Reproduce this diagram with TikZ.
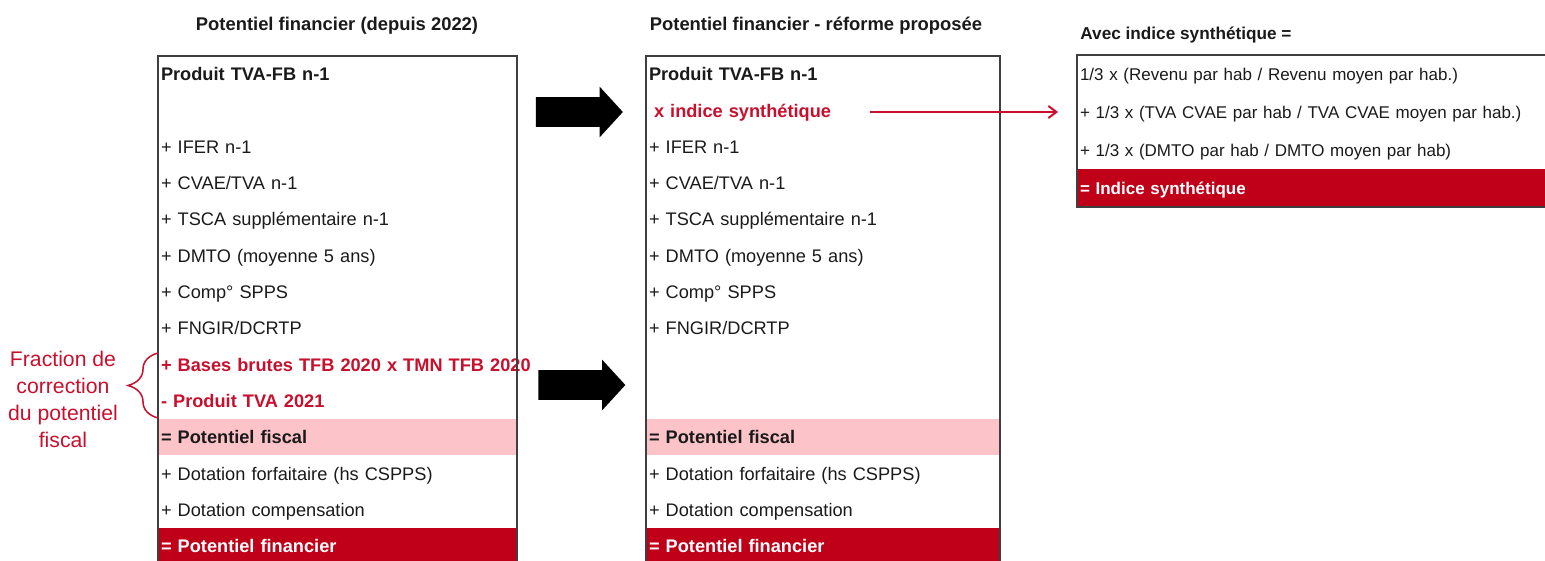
\documentclass[tikz,border=0pt]{standalone}
\usepackage{fontspec}
\setmainfont{Liberation Sans}
\usetikzlibrary{arrows.meta, positioning, shapes.arrows, decorations.pathreplacing}
\definecolor{rougebordeaux}{HTML}{C00018}
\definecolor{rosepale}{HTML}{FCC3C9}
\definecolor{rougetexte}{HTML}{C8102E}
\definecolor{grisbord}{HTML}{3F3F3F}
\definecolor{noirtexte}{HTML}{1A1A1A}
\colorlet{colBande}{rougebordeaux}
\colorlet{colFiscal}{rosepale}
\colorlet{colRouge}{rougetexte}
\colorlet{colBord}{grisbord}
\colorlet{colTexte}{noirtexte}
\tikzset{
  ligneBase/.style={
    rectangle, inner xsep=1.5pt, inner ysep=0pt, outer sep=0pt,
    minimum height=18.15pt, text height=6.6pt, text depth=0pt,
    align=left, font=\fontsize{9.1}{11}\selectfont, text=colTexte
  },
  ligneGauche/.style={ligneBase, text width=176.5pt},
  ligneMilieu/.style={ligneBase, text width=174pt},
  ligneDroite/.style={ligneBase, text width=233.5pt, minimum height=19pt,
    text height=6.1pt, font=\fontsize{8.5}{10}\selectfont},
  ligneGras/.style={font=\fontsize{9.1}{11}\selectfont\bfseries},
  ligneRouge/.style={ligneGras, text=colRouge},
  bandeFiscal/.style={ligneGras, fill=colFiscal},
  bandeFinancier/.style={ligneGras, fill=colBande, text=white},
  cadre/.style={draw=colBord, line width=1pt},
  titreCol/.style={font=\fontsize{9.2}{11}\selectfont\bfseries, text=colTexte},
  flecheBloc/.style={single arrow, fill=black, inner xsep=0pt, inner ysep=7.25pt,
    minimum height=43.5pt, single arrow head extend=5.25pt, single arrow tip angle=95},
  flecheFine/.style={-{Straight Barb[length=4pt, width=6pt]}, line width=1pt, colRouge},
  accolade/.style={decorate, decoration={brace, amplitude=15pt}, line width=0.75pt, colRouge},
  etiquetteFraction/.style={align=center, text=colRouge, font=\fontsize{10.6}{13.5}\selectfont},
}
\begin{document}
\begin{tikzpicture}[x=0.5pt, y=-0.5pt, node distance=0pt]
    \useasboundingbox (0,0) rectangle (1545,561);
    % colonne de gauche
    \node[titreCol] (titreG) at (337,26) {Potentiel financier (depuis 2022)};
    \node[ligneGauche, ligneGras, anchor=north west] (g0) at (158,56) {Produit TVA-FB n-1};
    \node[ligneGauche, below=of g0] (g1) {};
    \node[ligneGauche, below=of g1] (g2) {+ IFER n-1};
    \node[ligneGauche, below=of g2] (g3) {+ CVAE/TVA n-1};
    \node[ligneGauche, below=of g3] (g4) {+ TSCA supplémentaire n-1};
    \node[ligneGauche, below=of g4] (g5) {+ DMTO (moyenne 5 ans)};
    \node[ligneGauche, below=of g5] (g6) {+ Comp° SPPS};
    \node[ligneGauche, below=of g6] (g7) {+ FNGIR/DCRTP};
    \node[ligneGauche, ligneRouge, below=of g7] (g8) {\mbox{+ Bases brutes TFB 2020 x TMN TFB 2020}};
    \node[ligneGauche, ligneRouge, below=of g8] (g9) {- Produit TVA 2021};
    \node[ligneGauche, bandeFiscal, below=of g9] (g10) {= Potentiel fiscal};
    \node[ligneGauche, below=of g10] (g11) {+ Dotation forfaitaire (hs CSPPS)};
    \node[ligneGauche, below=of g11] (g12) {+ Dotation compensation};
    \node[ligneGauche, bandeFinancier, below=of g12] (g13) {= Potentiel financier};
    \draw[cadre] (g0.north west) rectangle (g13.south east);
    \draw[accolade] ([yshift=0.5pt]g9.south west) -- ([yshift=-3.3pt]g8.north west);
    \node[etiquetteFraction] (fraction) at (63,399) {Fraction de\\correction\\du potentiel\\fiscal};
    % colonne du milieu
    \node[titreCol] (titreM) at (816,26) {Potentiel financier - réforme proposée};
    \node[ligneMilieu, ligneGras, anchor=north west] (m0) at (646,56) {Produit TVA-FB n-1};
    \node[ligneMilieu, ligneRouge, below=of m0] (m1) {\hspace*{2.5pt}x indice synthétique};
    \node[ligneMilieu, below=of m1] (m2) {+ IFER n-1};
    \node[ligneMilieu, below=of m2] (m3) {+ CVAE/TVA n-1};
    \node[ligneMilieu, below=of m3] (m4) {+ TSCA supplémentaire n-1};
    \node[ligneMilieu, below=of m4] (m5) {+ DMTO (moyenne 5 ans)};
    \node[ligneMilieu, below=of m5] (m6) {+ Comp° SPPS};
    \node[ligneMilieu, below=of m6] (m7) {+ FNGIR/DCRTP};
    \node[ligneMilieu, below=of m7] (m8) {};
    \node[ligneMilieu, below=of m8] (m9) {};
    \node[ligneMilieu, bandeFiscal, below=of m9] (m10) {= Potentiel fiscal};
    \node[ligneMilieu, below=of m10] (m11) {+ Dotation forfaitaire (hs CSPPS)};
    \node[ligneMilieu, below=of m11] (m12) {+ Dotation compensation};
    \node[ligneMilieu, bandeFinancier, below=of m12] (m13) {= Potentiel financier};
    \draw[cadre] (m0.north west) rectangle (m13.south east);
    % indice synthetique
    \node[titreCol, anchor=west, inner sep=1.5pt, font=\fontsize{8.6}{10}\selectfont\bfseries] (titreD) at (1077,35) {Avec indice synthétique =};
    \node[ligneDroite, anchor=north west] (d0) at (1077,55) {1/3 x (Revenu par hab / Revenu moyen par hab.)};
    \node[ligneDroite, below=of d0] (d1) {+ 1/3 x (TVA CVAE par hab / TVA CVAE moyen par hab.)};
    \node[ligneDroite, below=of d1] (d2) {+ 1/3 x (DMTO par hab / DMTO moyen par hab)};
    \node[ligneDroite, bandeFinancier, font=\fontsize{8.5}{10}\selectfont\bfseries, below=of d2] (d3) {= Indice synthétique};
    \draw[cadre] (d0.north west) rectangle (d3.south east);
    % fleches
    \node[flecheBloc] (fleche1) at (572.5,112) {};
    \node[flecheBloc] (fleche2) at (575,385) {};
    \draw[flecheFine] ([xshift=-65pt]m1.east |- d1.west) -- ([xshift=-9.5pt]d1.west);
  \end{tikzpicture}
\end{document}
